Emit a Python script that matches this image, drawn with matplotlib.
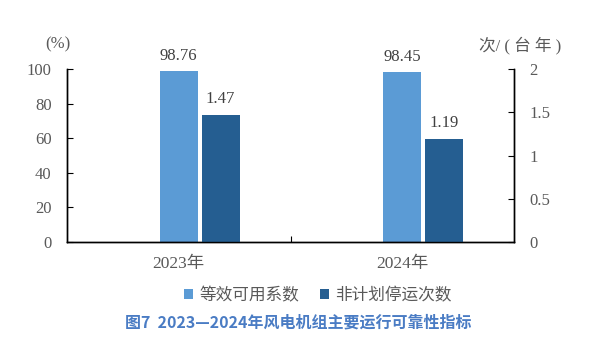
import matplotlib
matplotlib.use("Agg")
import matplotlib.pyplot as plt
import numpy as np

plt.rcParams['font.family'] = ['Liberation Serif', 'Noto Sans CJK SC', 'DejaVu Sans']

years = ["2023年", "2024年"]
availability = [98.76, 98.45]     # 等效可用系数 (%)
outages = [1.47, 1.19]            # 非计划停运次数 次/(台年)
series_names = ["等效可用系数", "非计划停运次数"]

light = "#5B9BD5"
dark = "#255E91"
grey = "#595959"

fig = plt.figure(figsize=(5.95, 3.44), dpi=100)
ax1 = fig.add_axes([67/595, 1-242/344, (514-67)/595, (242-69)/344])
ax2 = ax1.twinx()

x = np.arange(len(years))
w = 0.17
b1 = ax1.bar(x, availability, w, color=light, label=series_names[0])
b2 = ax2.bar(x + 0.187, outages, w, color=dark, label=series_names[1])

ax1.set_xlim(-0.5, 1.5)
ax1.set_ylim(0, 100)
ax2.set_ylim(0, 2)
ax1.set_yticks([0, 20, 40, 60, 80, 100])
ax2.set_yticks([0, 0.5, 1, 1.5, 2])
ax2.set_yticklabels(["0", "0.5", "1", "1.5", "2"])
ax1.set_xticks([0.5])
ax1.set_xticklabels([""])
ax1.set_xticks(x, minor=True)
ax1.set_xticklabels(years, minor=True)
ax1.tick_params(axis='x', which='minor', length=0, pad=10, labelsize=12.5, labelcolor=grey)
ax1.tick_params(axis='x', which='major', direction='in', length=4)

ax1.tick_params(axis='y', direction='in', length=4, labelsize=12, labelcolor=grey, pad=11)
ax2.tick_params(axis='y', direction='in', length=4, labelsize=12, labelcolor=grey, pad=11)

for a in (ax1, ax2):
    a.spines['top'].set_visible(False)
    for s in ('left', 'right', 'bottom'):
        a.spines[s].set_linewidth(1.0)

for rect, v in zip(b1, availability):
    ax1.text(rect.get_x() + rect.get_width()/2, v + 4, f"{v:.2f}",
             ha='center', va='bottom', fontsize=12, color="#404040")
for rect, v in zip(b2, outages):
    ax2.text(rect.get_x() + rect.get_width()/2, v + 0.09, f"{v:.2f}",
             ha='center', va='bottom', fontsize=12, color="#404040")

fig.text(58/595, 1-44/344, "(%)", ha='center', va='center', fontsize=12, color=grey)
fig.text(520/595, 1-45/344, "次/ ( 台 年 )", ha='center', va='center', fontsize=12, color=grey)

fig.legend(handles=[b1, b2], loc='center', bbox_to_anchor=(318/595, 1-296/344),
           ncol=2, frameon=False, fontsize=12, labelcolor=grey,
           handlelength=0.55, handleheight=0.55, handletextpad=0.4, columnspacing=1.2)

fig.text(298/595, 1-323/344, "图7  2023—2024年风电机组主要运行可靠性指标",
         ha='center', va='center', fontsize=11.5, color="#4A7CC4", fontweight='bold',
         family=['Noto Sans CJK SC', 'DejaVu Sans'])

fig.savefig("out.png", dpi=100)
